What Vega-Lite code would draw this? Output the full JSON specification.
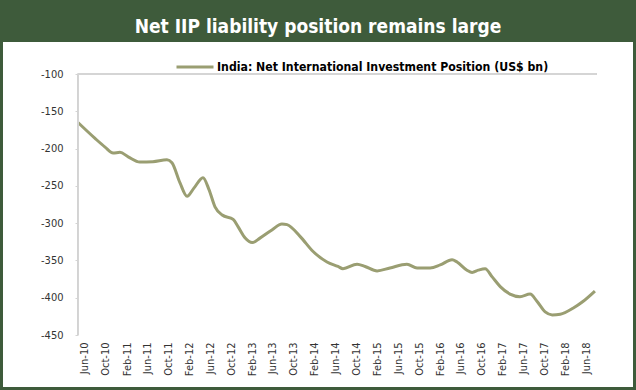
{
  "$schema": "https://vega.github.io/schema/vega-lite/v6.json",
  "autosize": "none",
  "width": 630,
  "height": 345,
  "padding": {"left": 3, "top": 42, "right": 3, "bottom": 3},
  "background": "#3e5b3b",
  "title": {
    "text": "Net IIP liability position remains large",
    "color": "white",
    "fontSize": 19,
    "fontWeight": 600,
    "font": "DejaVu Sans Condensed, sans-serif",
    "anchor": "middle",
    "frame": "group",
    "offset": 5
  },
  "config": {
    "view": {"fill": "white", "stroke": null},
    "axisX": {"labelOverlap": false}
  },
  "resolve": {"axis": {"x": "independent", "y": "independent"}},
  "data": {
    "values": [
      {"date": "2010-04-21", "value": -165},
      {"date": "2010-07-28", "value": -186},
      {"date": "2010-09-26", "value": -198},
      {"date": "2010-11-12", "value": -206},
      {"date": "2010-12-22", "value": -205},
      {"date": "2011-02-08", "value": -211},
      {"date": "2011-04-17", "value": -218},
      {"date": "2011-07-02", "value": -217.5},
      {"date": "2011-09-22", "value": -215},
      {"date": "2011-10-21", "value": -219},
      {"date": "2011-12-07", "value": -246},
      {"date": "2012-01-17", "value": -264},
      {"date": "2012-02-26", "value": -253},
      {"date": "2012-04-19", "value": -239},
      {"date": "2012-05-24", "value": -255},
      {"date": "2012-06-28", "value": -278},
      {"date": "2012-08-09", "value": -289},
      {"date": "2012-10-12", "value": -295},
      {"date": "2012-11-10", "value": -305},
      {"date": "2012-12-21", "value": -320},
      {"date": "2013-01-31", "value": -326},
      {"date": "2013-03-17", "value": -320},
      {"date": "2013-05-26", "value": -309},
      {"date": "2013-07-23", "value": -301},
      {"date": "2013-08-22", "value": -302},
      {"date": "2013-11-07", "value": -318},
      {"date": "2014-01-21", "value": -338},
      {"date": "2014-04-12", "value": -352},
      {"date": "2014-06-15", "value": -358},
      {"date": "2014-07-14", "value": -361},
      {"date": "2014-10-04", "value": -355},
      {"date": "2014-11-20", "value": -358},
      {"date": "2015-01-29", "value": -364},
      {"date": "2015-04-14", "value": -360},
      {"date": "2015-07-22", "value": -355},
      {"date": "2015-09-19", "value": -360},
      {"date": "2015-12-04", "value": -360},
      {"date": "2016-02-01", "value": -356},
      {"date": "2016-04-10", "value": -349},
      {"date": "2016-05-09", "value": -352},
      {"date": "2016-07-06", "value": -363},
      {"date": "2016-08-05", "value": -366},
      {"date": "2016-09-10", "value": -363},
      {"date": "2016-10-20", "value": -361},
      {"date": "2016-11-30", "value": -372},
      {"date": "2017-01-16", "value": -385},
      {"date": "2017-03-14", "value": -395},
      {"date": "2017-05-11", "value": -398.5},
      {"date": "2017-07-09", "value": -395},
      {"date": "2017-08-19", "value": -405},
      {"date": "2017-10-05", "value": -419},
      {"date": "2017-11-15", "value": -423},
      {"date": "2018-01-01", "value": -422},
      {"date": "2018-03-16", "value": -414},
      {"date": "2018-05-13", "value": -405},
      {"date": "2018-07-22", "value": -391}
    ]
  },
  "layer": [
    {
      "mark": {"type": "line", "strokeWidth": 3, "interpolate": "monotone"},
      "encoding": {
        "x": {
          "field": "date",
          "type": "temporal",
          "scale": {"domain": [{"year": 2009, "month": 2, "date": 8}, {"year": 2019, "month": 3, "date": 1}], "nice": false},
          "axis": {
            "title": null,
            "orient": "bottom",
            "offset": -52,
            "domain": false,
            "ticks": false,
            "tickSize": 0,
            "grid": false,
            "labelAngle": -90,
            "labelPadding": 7,
            "labelFont": "DejaVu Sans Condensed, sans-serif",
            "labelFontSize": 11,
            "labelColor": "#333333",
            "format": "%b-%y",
            "labelOverlap": false,
            "labelBound": false,
            "values": [
              {"year": 2010, "month": 6, "date": 1}, {"year": 2010, "month": 10, "date": 1},
              {"year": 2011, "month": 2, "date": 1}, {"year": 2011, "month": 6, "date": 1}, {"year": 2011, "month": 10, "date": 1},
              {"year": 2012, "month": 2, "date": 1}, {"year": 2012, "month": 6, "date": 1}, {"year": 2012, "month": 10, "date": 1},
              {"year": 2013, "month": 2, "date": 1}, {"year": 2013, "month": 6, "date": 1}, {"year": 2013, "month": 10, "date": 1},
              {"year": 2014, "month": 2, "date": 1}, {"year": 2014, "month": 6, "date": 1}, {"year": 2014, "month": 10, "date": 1},
              {"year": 2015, "month": 2, "date": 1}, {"year": 2015, "month": 6, "date": 1}, {"year": 2015, "month": 10, "date": 1},
              {"year": 2016, "month": 2, "date": 1}, {"year": 2016, "month": 6, "date": 1}, {"year": 2016, "month": 10, "date": 1},
              {"year": 2017, "month": 2, "date": 1}, {"year": 2017, "month": 6, "date": 1}, {"year": 2017, "month": 10, "date": 1},
              {"year": 2018, "month": 2, "date": 1}, {"year": 2018, "month": 6, "date": 1}
            ]
          }
        },
        "y": {
          "field": "value",
          "type": "quantitative",
          "scale": {"domain": [-519.6, -57.1], "nice": false, "zero": false},
          "axis": {
            "title": null,
            "offset": -75,
            "domain": false,
            "grid": false,
            "values": [-100, -150, -200, -250, -300, -350, -400, -450],
            "labelExpr": "'' + datum.value",
            "tickSize": 3,
            "tickColor": "#d4d4d4",
            "labelPadding": 12,
            "labelFont": "DejaVu Sans Condensed, sans-serif",
            "labelFontSize": 11,
            "labelColor": "#333333"
          }
        },
        "color": {
          "datum": "India: Net International Investment Position (US$ bn)",
          "scale": {"range": ["#9a9e72"]},
          "legend": {
            "title": null,
            "orient": "none",
            "legendX": 172,
            "legendY": 5,
            "padding": 0,
            "symbolType": "stroke",
            "symbolSize": 1369,
            "symbolStrokeWidth": 3,
            "labelOffset": 2,
            "labelFont": "DejaVu Sans Condensed, sans-serif",
            "labelFontSize": 12.2,
            "labelFontWeight": "bold",
            "labelColor": "#000000",
            "labelLimit": 500
          }
        }
      }
    },
    {
      "mark": {"type": "rule", "color": "#d4d4d4", "strokeWidth": 1.5},
      "encoding": {
        "x": {"datum": {"year": 2010, "month": 4, "date": 21}, "type": "temporal", "axis": null},
        "y": {"datum": -100, "type": "quantitative", "axis": null},
        "y2": {"datum": -450}
      }
    },
    {
      "mark": {"type": "rule", "color": "#d4d4d4", "strokeWidth": 1.5},
      "encoding": {
        "x": {"datum": {"year": 2010, "month": 4, "date": 21}, "type": "temporal", "axis": null},
        "x2": {"datum": {"year": 2018, "month": 8, "date": 1}},
        "y": {"datum": -100, "type": "quantitative", "axis": null}
      }
    }
  ]
}
